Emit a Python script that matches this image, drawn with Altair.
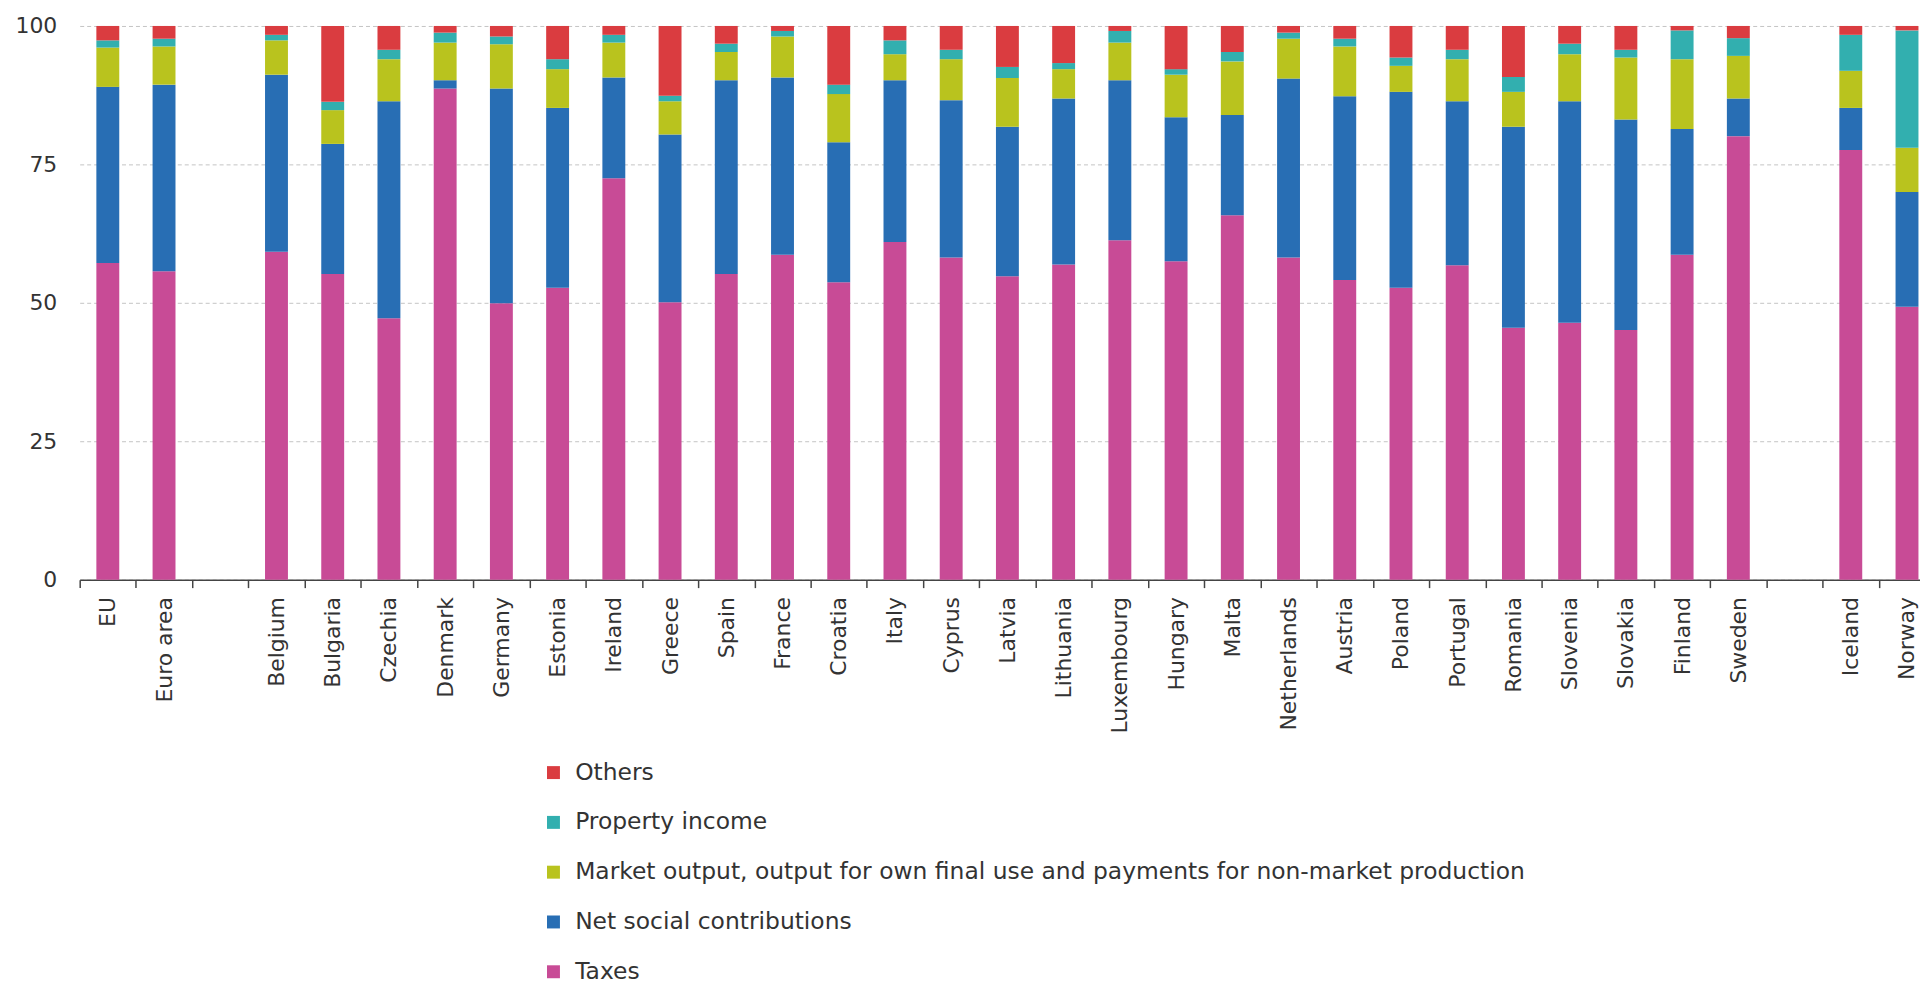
import altair as alt
import pandas as pd

countries = ["EU", "Euro area", "Belgium", "Bulgaria", "Czechia", "Denmark", "Germany",
             "Estonia", "Ireland", "Greece", "Spain", "France", "Croatia", "Italy", "Cyprus",
             "Latvia", "Lithuania", "Luxembourg", "Hungary", "Malta", "Netherlands", "Austria",
             "Poland", "Portugal", "Romania", "Slovenia", "Slovakia", "Finland", "Sweden",
             "Iceland", "Norway"]

# x-axis slots (blank slots separate the groups)
x_domain = ["EU", "Euro area", " "] + countries[2:29] + ["  ", "Iceland", "Norway"]

taxes = [57.2, 55.7, 59.2, 55.2, 47.2, 88.7, 49.9, 52.7, 72.5, 50.1, 55.2, 58.7, 53.7, 61.0,
         58.2, 54.8, 56.9, 61.3, 57.5, 65.8, 58.2, 54.1, 52.7, 56.8, 45.5, 46.4, 45.1, 58.7,
         80.1, 77.6, 49.3]
net_social = [31.8, 33.7, 32.0, 23.5, 39.2, 1.5, 38.8, 32.5, 18.2, 30.3, 35.0, 32.0, 25.3, 29.2,
              28.4, 27.0, 30.0, 28.9, 26.0, 18.1, 32.3, 33.2, 35.4, 29.6, 36.3, 40.0, 38.0, 22.7,
              6.8, 7.6, 20.7]
market = [7.1, 6.9, 6.2, 6.1, 7.6, 6.8, 8.0, 7.0, 6.3, 6.0, 5.1, 7.4, 8.7, 4.7,
          7.4, 8.8, 5.3, 6.8, 7.7, 9.7, 7.2, 9.0, 4.7, 7.6, 6.3, 8.5, 11.2, 12.6,
          7.7, 6.7, 8.0]
property_income = [1.3, 1.4, 1.0, 1.5, 1.7, 1.8, 1.4, 1.8, 1.4, 1.0, 1.5, 1.0, 1.7, 2.5,
                   1.7, 2.0, 1.1, 2.1, 1.0, 1.7, 1.1, 1.4, 1.5, 1.7, 2.7, 1.9, 1.4, 5.2,
                   3.2, 6.5, 21.2]
others = [2.6, 2.3, 1.6, 13.7, 4.3, 1.2, 1.9, 6.0, 1.6, 12.6, 3.2, 0.9, 10.6, 2.6,
          4.3, 7.4, 6.7, 0.9, 7.8, 4.7, 1.2, 2.3, 5.7, 4.3, 9.2, 3.2, 4.3, 0.8,
          2.2, 1.6, 0.8]

series_names = ["Taxes", "Net social contributions",
                "Market output, output for own final use and payments for non-market production",
                "Property income", "Others"]
series_values = [taxes, net_social, market, property_income, others]
series_colors = ["#C84B96", "#286EB4", "#B9C31E", "#32AFAF", "#DA3C40"]

rows = []
for si, (name, vals) in enumerate(zip(series_names, series_values)):
    for c, v in zip(countries, vals):
        rows.append({"country": c, "series": name, "value": v, "stack_idx": si})
df = pd.DataFrame(rows)

legend_order = series_names[::-1]
legend_colors = series_colors[::-1]

FONT = "DejaVu Sans"
STEP = 56.46

chart = alt.Chart(df).mark_bar(width=23).encode(
    x=alt.X("country:N",
            scale=alt.Scale(domain=x_domain, range=[0, STEP * len(x_domain)],
                            paddingInner=0, paddingOuter=0),
            axis=alt.Axis(title=None, labelAngle=-90, tickBand="extent", tickSize=8,
                          tickWidth=1.5, labelPadding=9, domainColor="#444444",
                          tickColor="#444444", domainWidth=1.5, labelFontSize=22,
                          labelColor="#333333", labelFont=FONT, grid=False, labelLimit=0)),
    y=alt.Y("value:Q", stack="zero",
            scale=alt.Scale(domain=[0, 100], nice=False),
            axis=alt.Axis(title=None, values=[0, 25, 50, 75, 100], domain=False, ticks=False,
                          labelPadding=23, labelFontSize=22, labelColor="#333333",
                          labelFont=FONT, gridDash=[4, 3], gridColor="#c4c4c4", gridWidth=1)),
    color=alt.Color("series:N",
                    scale=alt.Scale(domain=legend_order, range=legend_colors),
                    legend=alt.Legend(orient="none", legendX=464, legendY=738,
                                      direction="vertical", title=None, symbolType="square",
                                      symbolSize=169, symbolStrokeWidth=0, labelFontSize=23.5,
                                      labelFont=FONT, labelColor="#333333", rowPadding=25,
                                      labelOffset=10, padding=0, labelLimit=0)),
    order=alt.Order("stack_idx:Q", sort="ascending"),
).properties(
    width=1848, height=556,
    autosize=alt.AutoSizeParams(type="none"),
    padding={"left": 72, "top": 16, "right": 0, "bottom": 404},
).configure_view(stroke=None)

chart.save("out.html", embed_options={"renderer": "svg", "actions": False})
